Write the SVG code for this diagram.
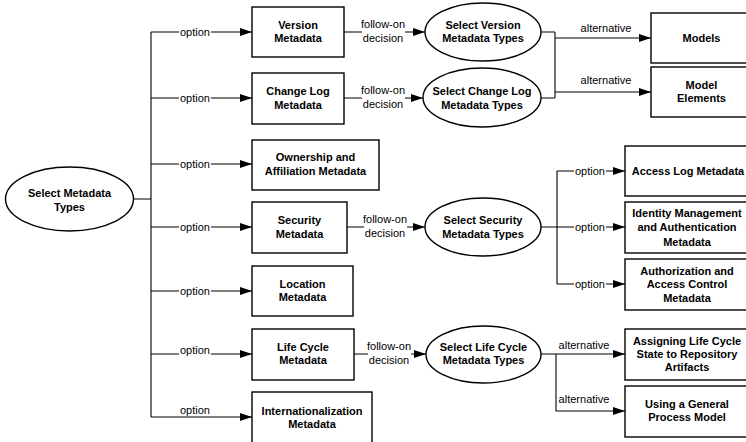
<svg xmlns="http://www.w3.org/2000/svg" width="746" height="442" viewBox="0 0 746 442">
<defs>
<marker id="ah" markerWidth="12" markerHeight="8" refX="12" refY="4" orient="auto" markerUnits="userSpaceOnUse">
<path d="M0,0 L12,4 L0,8 z" fill="#000"/>
</marker>
<style>
.n{fill:#fff;stroke:#000;stroke-width:1.4}
.t{font-family:"Liberation Sans",Arial,sans-serif;font-size:11px;font-weight:bold;text-anchor:middle;fill:#000}
.l{font-family:"Liberation Sans",Arial,sans-serif;font-size:11px;text-anchor:middle;fill:#000}
.c{fill:none;stroke:#000;stroke-width:1.1}
.a{marker-end:url(#ah)}
.bg{fill:#fff;stroke:none}
</style>
</defs>
<rect width="746" height="442" fill="#fff"/>

<g id="connectors">
<path class="c" d="M133,199 H151 M151,32 V417"/>
<path class="c a" d="M151,32 H252"/>
<path class="c a" d="M151,98 H252"/>
<path class="c a" d="M151,164 H252"/>
<path class="c a" d="M151,227 H252"/>
<path class="c a" d="M151,291 H252"/>
<path class="c a" d="M151,354 H252"/>
<path class="c a" d="M151,417 H252"/>
<path class="c a" d="M344,32 H425"/>
<path class="c a" d="M344,98 H423"/>
<path class="c a" d="M347,227 H425"/>
<path class="c a" d="M354,354 H426"/>
<path class="c" d="M541,32 H555 M541,98 H555 M555,32 V98"/>
<path class="c a" d="M555,38 H651"/>
<path class="c a" d="M555,92 H651"/>
<path class="c" d="M541,227 H557 M557,171 V284"/>
<path class="c a" d="M557,171 H625"/>
<path class="c a" d="M557,227 H625"/>
<path class="c a" d="M557,284 H625"/>
<path class="c a" d="M541,354 H625"/>
<path class="c a" d="M556,354 V411 H625"/>

<g id="labels">
<rect class="bg" x="179" y="26" width="32" height="12"/><text class="l" x="195" y="36">option</text>
<rect class="bg" x="179" y="92" width="32" height="12"/><text class="l" x="195" y="102">option</text>
<rect class="bg" x="179" y="158" width="32" height="12"/><text class="l" x="195" y="168">option</text>
<rect class="bg" x="179" y="221" width="32" height="12"/><text class="l" x="195" y="231">option</text>
<rect class="bg" x="179" y="285" width="32" height="12"/><text class="l" x="195" y="295">option</text>
<rect class="bg" x="179" y="345" width="32" height="11"/><text class="l" x="195" y="354">option</text>
<rect class="bg" x="179" y="405" width="32" height="11"/><text class="l" x="195" y="414">option</text>

<rect class="bg" x="362" y="17" width="43" height="27"/><text class="l" x="383" y="28">follow-on</text><text class="l" x="383" y="42">decision</text>
<rect class="bg" x="362" y="83" width="43" height="27"/><text class="l" x="383" y="94">follow-on</text><text class="l" x="383" y="108">decision</text>
<rect class="bg" x="364" y="212" width="43" height="27"/><text class="l" x="385" y="223">follow-on</text><text class="l" x="385" y="237">decision</text>
<rect class="bg" x="368" y="339" width="43" height="27"/><text class="l" x="389" y="350">follow-on</text><text class="l" x="389" y="364">decision</text>

<text class="l" x="606" y="32">alternative</text>
<text class="l" x="606" y="84">alternative</text>
<rect class="bg" x="574" y="165" width="32" height="12"/><text class="l" x="590" y="175">option</text>
<rect class="bg" x="574" y="221" width="32" height="12"/><text class="l" x="590" y="231">option</text>
<rect class="bg" x="574" y="278" width="32" height="12"/><text class="l" x="590" y="288">option</text>
<text class="l" x="584" y="349">alternative</text>
<text class="l" x="584" y="403">alternative</text>
</g>
</g>

<g id="select-metadata-types"><ellipse class="n" cx="69.5" cy="199" rx="64" ry="32"/><text class="t" x="69.5" y="197">Select Metadata</text><text class="t" x="69.5" y="211">Types</text></g>

<g id="version-metadata"><rect class="n" x="252" y="7" width="92" height="50"/><text class="t" x="298" y="29">Version</text><text class="t" x="298" y="42">Metadata</text></g>
<g id="change-log-metadata"><rect class="n" x="252" y="73" width="92" height="51"/><text class="t" x="298" y="95">Change Log</text><text class="t" x="298" y="109">Metadata</text></g>
<g id="ownership-metadata"><rect class="n" x="252" y="140" width="127" height="50"/><text class="t" x="315.5" y="161">Ownership and</text><text class="t" x="315.5" y="175">Affiliation Metadata</text></g>
<g id="security-metadata"><rect class="n" x="252" y="202" width="95" height="51"/><text class="t" x="299.5" y="224">Security</text><text class="t" x="299.5" y="238">Metadata</text></g>
<g id="location-metadata"><rect class="n" x="252" y="266" width="101" height="50"/><text class="t" x="302.5" y="288">Location</text><text class="t" x="302.5" y="301">Metadata</text></g>
<g id="life-cycle-metadata"><rect class="n" x="252" y="329" width="102" height="51"/><text class="t" x="303" y="351">Life Cycle</text><text class="t" x="303" y="364">Metadata</text></g>
<g id="internationalization-metadata"><rect class="n" x="252" y="392" width="120" height="60"/><text class="t" x="312" y="415">Internationalization</text><text class="t" x="312" y="428">Metadata</text></g>

<g id="select-version-types"><ellipse class="n" cx="483" cy="32" rx="58" ry="29"/><text class="t" x="483" y="29">Select Version</text><text class="t" x="483" y="42">Metadata Types</text></g>
<g id="select-change-log-types"><ellipse class="n" cx="482" cy="97.5" rx="59" ry="29.5"/><text class="t" x="482" y="95">Select Change Log</text><text class="t" x="482" y="109">Metadata Types</text></g>
<g id="select-security-types"><ellipse class="n" cx="483" cy="227" rx="58" ry="29"/><text class="t" x="483" y="224">Select Security</text><text class="t" x="483" y="238">Metadata Types</text></g>
<g id="select-life-cycle-types"><ellipse class="n" cx="483.5" cy="354.5" rx="57.5" ry="28.5"/><text class="t" x="483.5" y="351">Select Life Cycle</text><text class="t" x="483.5" y="364">Metadata Types</text></g>

<g id="models"><rect class="n" x="651" y="13" width="104" height="50"/><text class="t" x="701.5" y="42">Models</text></g>
<g id="model-elements"><rect class="n" x="651" y="67" width="104" height="50"/><text class="t" x="701.5" y="89">Model</text><text class="t" x="701.5" y="102">Elements</text></g>
<g id="access-log-metadata"><rect class="n" x="625" y="146" width="130" height="50"/><text class="t" x="688" y="175">Access Log Metadata</text></g>
<g id="identity-management"><rect class="n" x="625" y="202" width="130" height="51"/><text class="t" x="687" y="217">Identity Management</text><text class="t" x="687" y="231">and Authentication</text><text class="t" x="687" y="246">Metadata</text></g>
<g id="authorization"><rect class="n" x="625" y="259" width="130" height="51"/><text class="t" x="687" y="275">Authorization and</text><text class="t" x="687" y="288">Access Control</text><text class="t" x="687" y="302">Metadata</text></g>
<g id="assigning-life-cycle"><rect class="n" x="625" y="329" width="130" height="51"/><text class="t" x="687" y="345">Assigning Life Cycle</text><text class="t" x="687" y="358">State to Repository</text><text class="t" x="687" y="371">Artifacts</text></g>
<g id="general-process-model"><rect class="n" x="625" y="386" width="130" height="51"/><text class="t" x="687" y="408">Using a General</text><text class="t" x="687" y="421">Process Model</text></g>
</svg>
